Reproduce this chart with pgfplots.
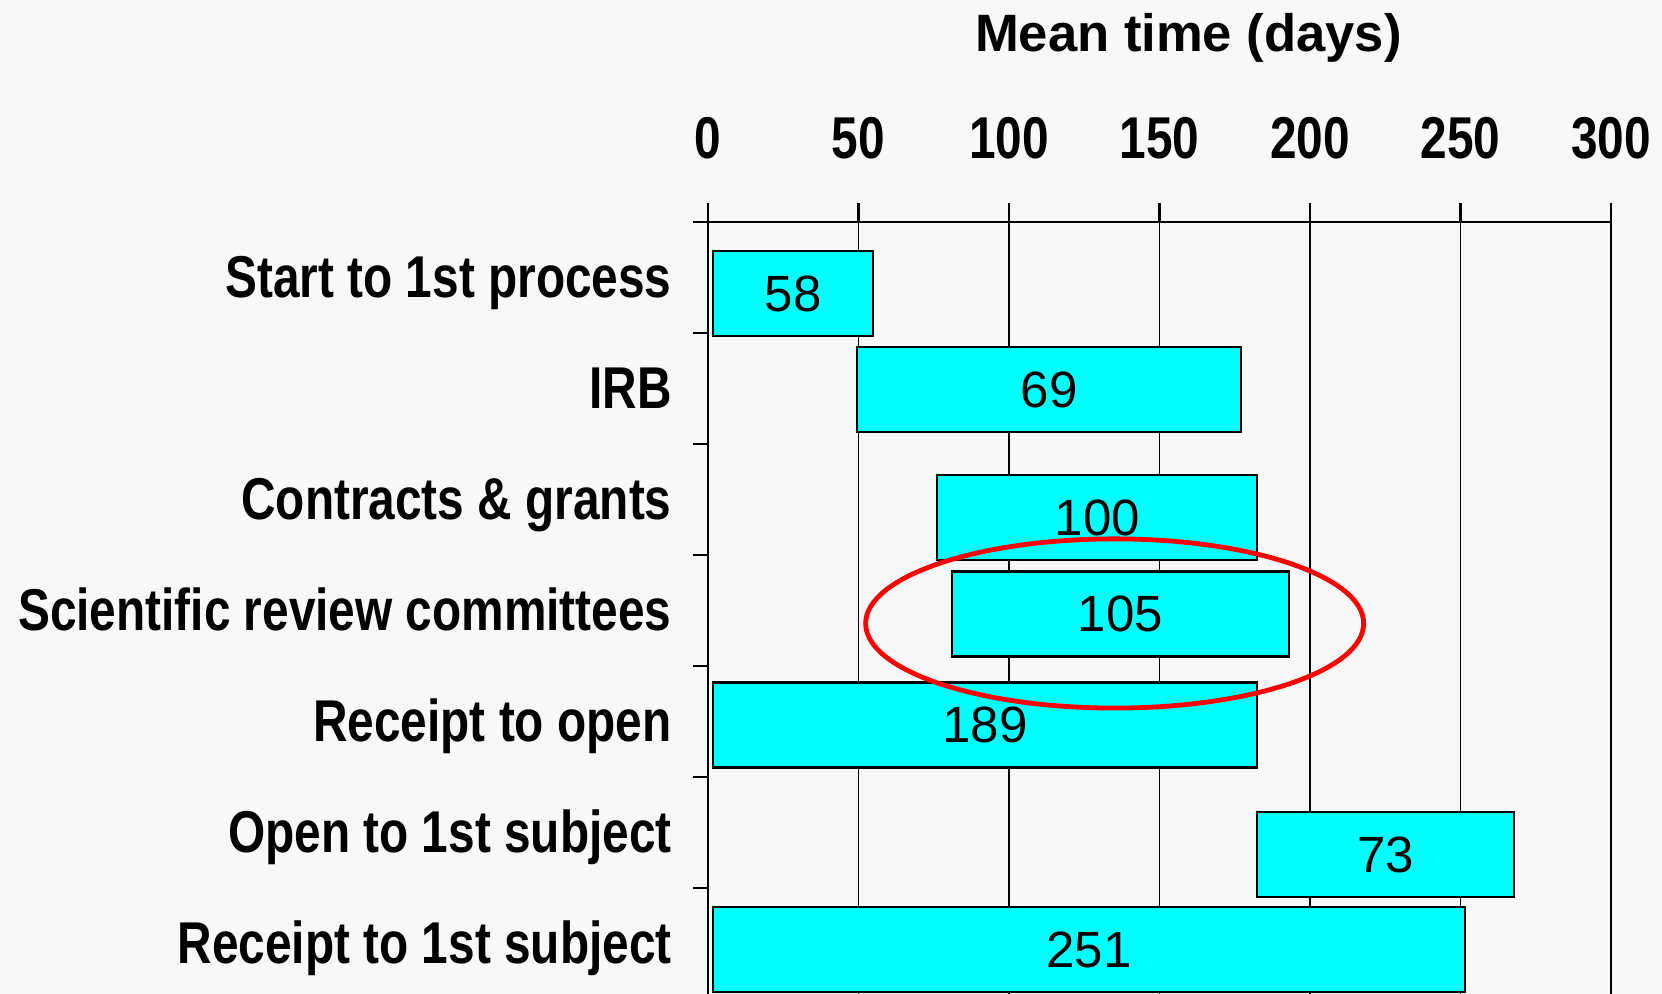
\documentclass[border=0pt]{standalone}
\usepackage{pgfplots}
\pgfplotsset{compat=1.18}
\usepackage{pgfplotstable}
\usepackage{fontspec}
\setmainfont{Liberation Sans}
\newfontfamily\narrowfont[FakeStretch=0.81]{Liberation Sans}
\definecolor{bgc}{HTML}{F8F8F8}
\definecolor{barc}{HTML}{00FFFF}
\newcommand\catfont{\fontsize{29.5}{32}\narrowfont\bfseries}

\pgfplotstableread{
y start len label
0.644 1.7 53.1 58
1.509 49.6 127.5 69
2.662 76.2 106.2 100
3.532 81.1 111.9 105
4.532 1.7 180.7 189
5.698 182.4 85.4 73
6.554 1.7 249.8 251
}\bars

\begin{document}
\begin{tikzpicture}
\fill[bgc] (0,0) rectangle (831pt,497pt);
\begin{axis}[
  at={(354pt,-2.5pt)}, anchor=south west,
  scale only axis, width=451.5pt, height=388.5pt,
  xmin=0, xmax=300, ymin=0, ymax=7, y dir=reverse,
  enlargelimits=false, clip=false,
  xbar stacked, bar width=0.766,
  axis line style={line width=1.1pt},
  every tick/.style={black, line width=1.1pt},
  tick align=outside,
  major tick length=9.5pt,
  xtick={0,50,...,300}, xtick pos=right, xticklabel pos=right,
  xmajorgrids, grid style={black, line width=0.95pt},
  /pgf/number format/assume math mode=true,
  xticklabel style={font=\catfont, inner sep=0pt, anchor=base, yshift=22.3pt},
  ytick={0,1,...,7}, yticklabels={},
  ytick style={/pgfplots/major tick length=7.5pt},
  ytick pos=left, yticklabel pos=left,
  extra y ticks={0.5,1.5,2.5,3.5,4.5,5.5,6.5},
  extra y tick labels={Start to 1st process, IRB, Contracts \& grants, Scientific review committees, Receipt to open, Open to 1st subject, Receipt to 1st subject},
  extra y tick style={major tick length=0pt, ytick style={draw=none, /pgfplots/major tick length=0pt}},
  yticklabel style={font=\catfont, inner sep=0pt, anchor=base east, xshift=-18pt, yshift=-9.75pt},
]
\addplot[draw=none, fill=none] table[x=start, y=y] {\bars};
\addplot[fill=barc, draw=black, line width=1.1pt,
  nodes near coords, point meta=explicit symbolic,
  nodes near coords style={anchor=center, inner sep=0pt, font=\fontsize{25.5}{28}\selectfont}]
  table[x=len, y=y, meta=label] {\bars};
\coordinate (ec) at (axis cs:135.1,3.617);
\end{axis}
\draw[red, line width=2.4pt] (ec) ellipse [x radius=124.5pt, y radius=42.3pt];
\node[anchor=base, font=\fontsize{26.3}{30}\selectfont\bfseries] at (594.2pt,471.2pt) {Mean time (days)};
\pgfresetboundingbox
\path (0,0) rectangle (831pt,497pt);
\end{tikzpicture}
\end{document}
